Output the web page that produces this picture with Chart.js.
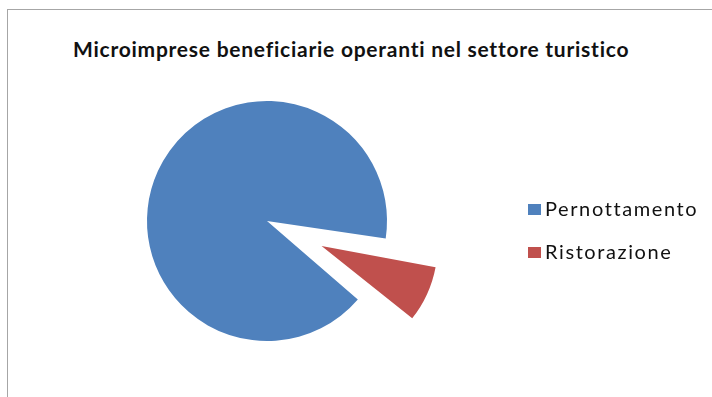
<!DOCTYPE html>
<html>
<head>
<meta charset="utf-8">
<script src="https://cdn.jsdelivr.net/npm/chart.js@4"></script>
<style>
  html, body { margin: 0; padding: 0; background: #fff; }
  body { width: 712px; height: 397px; position: relative; overflow: hidden; }
  #frame { position: absolute; left: 7px; top: 9px; width: 720px; height: 400px; border: 1px solid #a6a6a6; }
  #title { position: absolute; left: 73px; top: 38px; font: bold 21px Lato, sans-serif; line-height: 21px; letter-spacing: 0.75px; color: #111; white-space: nowrap; }
  #chart { position: absolute; left: 0; top: 0; }
  #legend { position: absolute; left: 528px; top: 198px; font: 20px Lato, sans-serif; line-height: 20px; letter-spacing: 1.6px; color: #111; }
  .item { position: relative; height: 43px; padding-left: 17px; white-space: nowrap; }
  .box { position: absolute; left: 0; top: 6px; width: 13px; height: 11px; }
</style>
</head>
<body>
<div id="frame"></div>
<div id="title">Microimprese beneficiarie operanti nel settore turistico</div>
<canvas id="chart" width="712" height="397"></canvas>
<div id="legend"></div>
<script>
    // --- dati del grafico ---
    const labels = ['Pernottamento', 'Ristorazione'];
    const values = [91, 9];
    const colors = ['#4F81BD', '#C0504D'];
    const explode = [0, 240];

    const ctx = document.getElementById('chart').getContext('2d');

    // lo spicchio esploso in Chart.js si allarga: lo riporto al raggio voluto
    const explodedRadius = {
        id: 'explodedRadius',
        beforeDatasetsDraw(chart) {
            const meta = chart.getDatasetMeta(0);
            meta.data.forEach((arc) => {
                const off = (arc.options.offset || 0) / 4;
                if (!off) return;
                const fix = 1 - Math.sin(Math.min(Math.PI, arc.circumference));
                arc.outerRadius = 116 - off * fix;
            });
        }
    };

    new Chart(ctx, {
        type: 'pie',
        data: {
            labels: labels,
            datasets: [{
                data: values,
                backgroundColor: colors,
                borderWidth: 0,
                offset: explode,
                radius: 120
            }]
        },
        options: {
            responsive: false,
            animation: false,
            rotation: 130.8,
            layout: {
                padding: { left: 67, right: 245, top: 71, bottom: 26 }
            },
            plugins: {
                legend: { display: false },
                tooltip: { enabled: false }
            }
        },
        plugins: [explodedRadius]
    });

    // legenda a destra
    const legend = document.getElementById('legend');
    labels.forEach((lab, i) => {
        const row = document.createElement('div');
        row.className = 'item';
        row.innerHTML = '<span class="box" style="background:' + colors[i] + '"></span>' + lab;
        legend.appendChild(row);
    });
</script>
</body>
</html>
